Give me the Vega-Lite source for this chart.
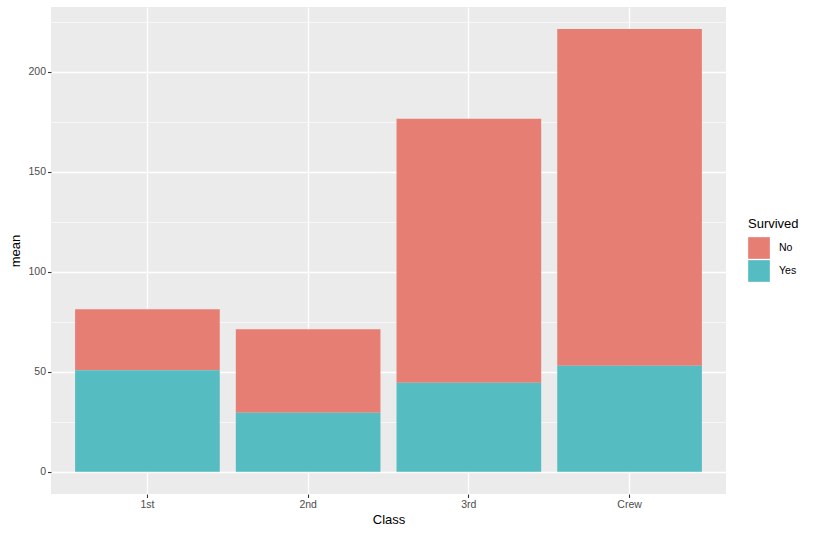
{
  "$schema": "https://vega.github.io/schema/vega-lite/v6.json",
  "width": 675,
  "height": 487,
  "autosize": {"type": "none"},
  "padding": {"left": 51, "top": 7, "right": 94, "bottom": 42},
  "background": "white",
  "config": {
    "view": {"fill": "#EBEBEB", "stroke": null},
    "font": "Liberation Sans"
  },
  "data": {
    "values": [
      {"Class": "1st", "Survived": "No", "mean": 30.5},
      {"Class": "1st", "Survived": "Yes", "mean": 50.75},
      {"Class": "2nd", "Survived": "No", "mean": 41.75},
      {"Class": "2nd", "Survived": "Yes", "mean": 29.5},
      {"Class": "3rd", "Survived": "No", "mean": 132},
      {"Class": "3rd", "Survived": "Yes", "mean": 44.5},
      {"Class": "Crew", "Survived": "No", "mean": 168.25},
      {"Class": "Crew", "Survived": "Yes", "mean": 53}
    ]
  },
  "mark": {"type": "bar"},
  "encoding": {
    "x": {
      "field": "Class",
      "type": "nominal",
      "scale": {"paddingInner": 0.1, "paddingOuter": 0.15},
      "axis": {
        "title": "Class",
        "bandPosition": 0.5,
        "labelAngle": 0,
        "domain": false,
        "grid": true,
        "gridColor": "white",
        "gridWidth": 1.3,
        "tickColor": "#333333",
        "tickSize": 3.5,
        "tickWidth": 1.1,
        "labelColor": "#4D4D4D",
        "labelFontSize": 10.5,
        "labelPadding": 2,
        "titleFontSize": 13,
        "titleFontWeight": "normal",
        "titleColor": "black",
        "titlePadding": 3
      }
    },
    "y": {
      "field": "mean",
      "type": "quantitative",
      "stack": "zero",
      "scale": {"domain": [-11.06, 232.3], "nice": false, "zero": false},
      "axis": {
        "title": "mean",
        "values": [0, 25, 50, 75, 100, 125, 150, 175, 200, 225],
        "labelExpr": "datum.value % 50 === 0 ? datum.label : ''",
        "domain": false,
        "grid": true,
        "gridColor": "white",
        "gridWidth": {"condition": {"test": "datum.value % 50 === 0", "value": 1.3}, "value": 0.6},
        "tickColor": "#333333",
        "tickOpacity": {"condition": {"test": "datum.value % 50 === 0", "value": 1}, "value": 0},
        "tickSize": 3.5,
        "tickWidth": 1.1,
        "labelColor": "#4D4D4D",
        "labelFontSize": 10.5,
        "labelPadding": 2,
        "titleFontSize": 13,
        "titleFontWeight": "normal",
        "titleColor": "black",
        "titlePadding": 5
      }
    },
    "color": {
      "field": "Survived",
      "type": "nominal",
      "scale": {"domain": ["No", "Yes"], "range": ["#E77E73", "#55BCC2"]},
      "legend": {
        "title": "Survived",
        "orient": "none",
        "legendX": 697,
        "legendY": 211,
        "symbolType": "square",
        "symbolSize": 470,
        "symbolStrokeWidth": 0,
        "symbolOpacity": 1,
        "titleFontSize": 13,
        "titleFontWeight": "normal",
        "titleColor": "black",
        "titlePadding": 6,
        "labelFontSize": 10.5,
        "labelColor": "black",
        "labelOffset": 9,
        "rowPadding": 1
      }
    },
    "order": {"field": "Survived", "sort": "descending"}
  }
}
